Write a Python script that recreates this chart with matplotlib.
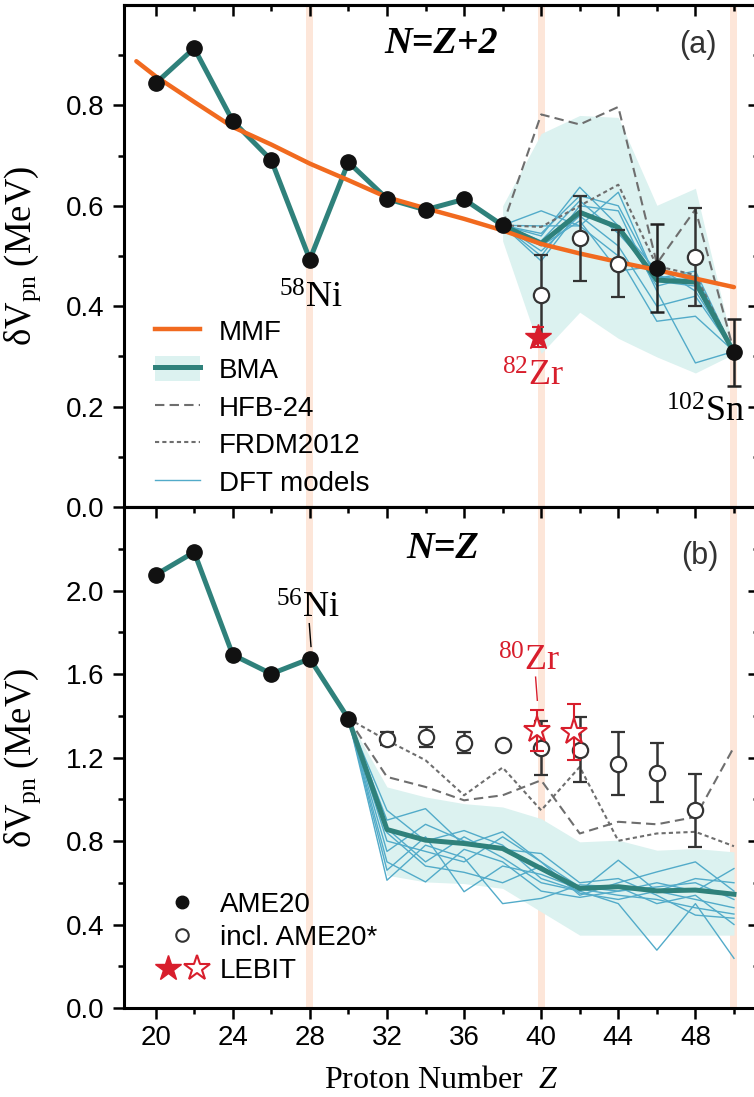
import numpy as np
import matplotlib.pyplot as plt
from matplotlib.lines import Line2D
from matplotlib.patches import Patch
from matplotlib.legend_handler import HandlerTuple

plt.rcParams['font.family'] = ['Liberation Sans', 'DejaVu Sans']
plt.rcParams['mathtext.fontset'] = 'custom'
plt.rcParams['mathtext.rm'] = 'Liberation Serif'
plt.rcParams['mathtext.it'] = 'Liberation Serif:italic'

# ---------------- panel (a): N = Z + 2 ----------------
z_even = [20, 22, 24, 26, 28, 30, 32, 34, 36, 38, 40, 42, 44, 46, 48, 50]

a_ame_z = [20, 22, 24, 26, 28, 30, 32, 34, 36, 38]
a_ame_v = [0.844, 0.914, 0.769, 0.691, 0.493, 0.687, 0.614, 0.592, 0.613, 0.561]
a_ame_err_z = [46, 50]
a_ame_err_v = [0.476, 0.308]
a_ame_err_e = [0.087, 0.067]

a_incl_z = [40, 42, 44, 48]
a_incl_v = [0.422, 0.535, 0.485, 0.498]
a_incl_e = [0.080, 0.084, 0.067, 0.097]

a_lebit_z = [39.85]
a_lebit_v = [0.339]
a_lebit_e = [0.02]

a_bma = [0.844, 0.914, 0.769, 0.691, 0.493, 0.687, 0.614, 0.592, 0.613, 0.561,
         0.525, 0.587, 0.557, 0.452, 0.448, 0.308]

a_model_z = [38, 40, 42, 44, 46, 48, 50]
a_band_hi = [0.600, 0.744, 0.780, 0.776, 0.601, 0.635, 0.312]
a_band_lo = [0.530, 0.306, 0.388, 0.336, 0.299, 0.267, 0.305]
a_hfb = [0.561, 0.782, 0.762, 0.797, 0.485, 0.593, 0.310]
a_frdm = [0.561, 0.558, 0.600, 0.642, 0.480, 0.462, 0.310]
a_dft = [
    [0.561, 0.590, 0.560, 0.627, 0.450, 0.440, 0.310],
    [0.561, 0.540, 0.637, 0.560, 0.470, 0.460, 0.310],
    [0.561, 0.500, 0.600, 0.590, 0.430, 0.287, 0.310],
    [0.561, 0.510, 0.580, 0.520, 0.400, 0.420, 0.310],
    [0.561, 0.530, 0.610, 0.545, 0.460, 0.450, 0.310],
    [0.561, 0.560, 0.560, 0.500, 0.370, 0.380, 0.310],
    [0.561, 0.490, 0.590, 0.560, 0.440, 0.460, 0.310],
    [0.561, 0.520, 0.570, 0.470, 0.480, 0.430, 0.310],
    [0.561, 0.545, 0.620, 0.600, 0.455, 0.470, 0.310],
]

mmf_z = [19, 20, 22, 24, 26, 28, 30, 32, 34, 36, 38, 40, 42, 44, 46, 48, 50]
mmf_v = [0.888, 0.858, 0.807, 0.757, 0.722, 0.684, 0.651, 0.617, 0.595, 0.574,
         0.551, 0.524, 0.505, 0.488, 0.472, 0.455, 0.438]

# ---------------- panel (b): N = Z ----------------
b_ame_z = [20, 22, 24, 26, 28, 30]
b_ame_v = [2.075, 2.184, 1.692, 1.601, 1.673, 1.386]

b_incl_z = [32, 34, 36, 38, 40, 42, 44, 46, 48]
b_incl_v = [1.290, 1.298, 1.271, 1.258, 1.246, 1.238, 1.171, 1.128, 0.947]
b_incl_e = [0.030, 0.050, 0.050, 0.0, 0.128, 0.155, 0.152, 0.143, 0.174]

b_lebit_z = [39.8, 41.7]
b_lebit_v = [1.330, 1.322]
b_lebit_e = [0.099, 0.133]

b_bma = [2.075, 2.184, 1.692, 1.601, 1.673, 1.386, 0.855, 0.804, 0.788, 0.764,
         0.668, 0.573, 0.581, 0.561, 0.565, 0.545]

b_model_z = [30, 32, 34, 36, 38, 40, 42, 44, 46, 48, 50]
b_band_hi = [1.386, 1.059, 1.011, 0.979, 0.963, 0.907, 0.796, 0.804, 0.756, 0.764, 0.748]
b_band_lo = [1.386, 0.636, 0.604, 0.596, 0.573, 0.461, 0.349, 0.349, 0.349, 0.349, 0.349]
b_hfb = [1.386, 1.107, 1.059, 0.995, 1.019, 1.091, 0.836, 0.892, 0.880, 0.915, 1.250]
b_frdm = [1.386, 1.282, 1.187, 1.019, 1.152, 0.947, 1.155, 0.801, 0.836, 0.844, 0.775]
b_dft = [
    [1.386, 0.947, 0.800, 0.850, 0.780, 0.620, 0.560, 0.708, 0.560, 0.520, 0.480],
    [1.386, 0.900, 0.955, 0.780, 0.844, 0.700, 0.580, 0.560, 0.600, 0.560, 0.668],
    [1.386, 0.860, 0.700, 0.820, 0.720, 0.600, 0.560, 0.500, 0.277, 0.500, 0.238],
    [1.386, 0.800, 0.750, 0.700, 0.820, 0.700, 0.540, 0.600, 0.652, 0.700, 0.560],
    [1.386, 0.750, 0.880, 0.800, 0.760, 0.740, 0.600, 0.620, 0.540, 0.445, 0.430],
    [1.386, 0.700, 0.604, 0.760, 0.700, 0.560, 0.530, 0.560, 0.580, 0.600, 0.520],
    [1.386, 0.660, 0.820, 0.557, 0.680, 0.640, 0.570, 0.540, 0.520, 0.480, 0.450],
    [1.386, 0.612, 0.780, 0.720, 0.500, 0.525, 0.590, 0.580, 0.500, 0.540, 0.400],
    [1.386, 0.840, 0.680, 0.650, 0.600, 0.680, 0.550, 0.520, 0.560, 0.620, 0.600],
]

magic_z = [28, 40, 50]

TEAL = '#2f817b'
BAND = '#dcf2f0'
DFT = '#52abc9'
ORANGE = '#f16a1f'
RED = '#d81e2c'
PEACH = '#fde6d9'
GRAY = '#6e6e6e'
DARK = '#333333'

fig = plt.figure(figsize=(7.54, 10.97), dpi=100)
ax_a = fig.add_axes([0.16446, 0.53783, 0.8422, 0.45761])
ax_b = fig.add_axes([0.16446, 0.08113, 0.8422, 0.4567])


def style(ax, ymax, ymaj, ymin, show_x):
    ax.set_xlim(18.36, 51.3)
    ax.set_ylim(0, ymax)
    ax.set_xticks(np.arange(20, 49, 4))
    ax.set_xticks(np.arange(22, 51, 4), minor=True)
    ax.set_yticks(ymaj)
    ax.set_yticks(ymin, minor=True)
    ax.tick_params(which='major', direction='out', length=8, width=1.8,
                   labelsize=20, pad=6, labelbottom=show_x)
    ax.tick_params(axis='x', which='major', pad=4)
    ax.tick_params(which='minor', direction='out', length=4, width=1.8)
    for s in ax.spines.values():
        s.set_linewidth(2.2)
    secx = ax.secondary_xaxis('top')
    secx.set_xticks(np.arange(20, 49, 4))
    secx.set_xticks(np.arange(22, 51, 4), minor=True)
    secx.tick_params(which='major', direction='in', length=8, width=1.8, labeltop=False)
    secx.tick_params(which='minor', direction='in', length=4, width=1.8)
    secx.spines['top'].set_linewidth(2.2)
    secy = ax.secondary_yaxis('right')
    secy.set_yticks(ymaj)
    secy.set_yticks(ymin, minor=True)
    secy.tick_params(which='major', direction='in', length=8, width=1.8, labelright=False)
    secy.tick_params(which='minor', direction='in', length=4, width=1.8)
    for z in magic_z:
        ax.axvspan(z - 0.18, z + 0.18, color=PEACH, lw=0, zorder=0)
    ax.set_ylabel('δV$_{\\rm pn}$ (MeV)', family='Liberation Serif', fontsize=26.5)
    ax.yaxis.set_label_coords(-0.128, 0.5)


style(ax_a, 1.0, [0, 0.2, 0.4, 0.6, 0.8], [0.1, 0.3, 0.5, 0.7, 0.9], False)
style(ax_b, 2.4, [0, 0.4, 0.8, 1.2, 1.6, 2.0], [0.2, 0.6, 1.0, 1.4, 1.8, 2.2], True)
ax_a.yaxis.set_major_formatter(plt.FormatStrFormatter('%.1f'))
ax_b.yaxis.set_major_formatter(plt.FormatStrFormatter('%.1f'))

# ---- panel (a)
ax = ax_a
ax.fill_between(a_model_z, a_band_lo, a_band_hi, color=BAND, lw=0, zorder=1)
for d in a_dft:
    ax.plot(a_model_z, d, color=DFT, lw=1.0, zorder=2)
ax.plot(a_model_z, a_hfb, color=GRAY, lw=1.5, dashes=(4.5, 2.5), zorder=3)
ax.plot(a_model_z, a_frdm, color=GRAY, lw=1.5, dashes=(2, 1.5), zorder=3)
ax.plot(z_even, a_bma, color=TEAL, lw=3.6, zorder=4)
ax.plot(mmf_z, mmf_v, color=ORANGE, lw=3.2, zorder=4.5, solid_capstyle='round')
ax.plot(a_ame_z, a_ame_v, 'o', color='#111111', ms=11, zorder=6)
ax.errorbar(a_ame_err_z, a_ame_err_v, yerr=a_ame_err_e, fmt='o', color='#111111',
            ms=11, ecolor='#222222', elinewidth=1.8, capsize=5, capthick=1.8, zorder=6)
ax.errorbar(a_incl_z, a_incl_v, yerr=a_incl_e, fmt='o', mfc='white', mec=DARK, ms=11,
            mew=1.6, ecolor=DARK, elinewidth=1.8, capsize=5, capthick=1.8, zorder=6)
ax.errorbar(a_lebit_z, a_lebit_v, yerr=a_lebit_e, fmt='*', color=RED, ms=19,
            ecolor=RED, elinewidth=1.5, capsize=4, capthick=1.5, zorder=7)

ax.text(34.8, 0.923, 'N=Z+2', family='Liberation Serif', style='italic', weight='bold',
        fontsize=27.5, ha='center', va='center')
ax.text(48.13, 0.921, '(a)', fontsize=22, color=DARK, ha='center', va='center')
ax.text(28.07, 0.396, '$^{58}$Ni', family='Liberation Serif', fontsize=26,
        ha='center', va='baseline')
ax.text(39.58, 0.241, '$^{82}$Zr', family='Liberation Serif', fontsize=26,
        color=RED, ha='center', va='baseline')
ax.text(48.52, 0.170, '$^{102}$Sn', family='Liberation Serif', fontsize=26,
        ha='center', va='baseline')

h_a = [Line2D([], [], color=ORANGE, lw=3.2),
       (Patch(facecolor=BAND, edgecolor='none'), Line2D([], [], color=TEAL, lw=3.6)),
       Line2D([], [], color=GRAY, lw=1.5, dashes=(4.5, 2.5)),
       Line2D([], [], color=GRAY, lw=1.5, dashes=(2, 1.5)),
       Line2D([], [], color=DFT, lw=1.0)]
ax.legend(h_a, ['MMF', 'BMA', 'HFB-24', 'FRDM2012', 'DFT models'],
          handler_map={tuple: HandlerTuple(ndivide=1)}, loc='upper left',
          bbox_to_anchor=(0.049, 0.376), frameon=False, fontsize=20,
          borderpad=0, borderaxespad=0, labelspacing=0.35, handlelength=1.6,
          handleheight=1.0, handletextpad=0.7)

# ---- panel (b)
ax = ax_b
ax.fill_between(b_model_z, b_band_lo, b_band_hi, color=BAND, lw=0, zorder=1)
for d in b_dft:
    ax.plot(b_model_z, d, color=DFT, lw=1.0, zorder=2)
ax.plot(b_model_z, b_hfb, color=GRAY, lw=1.5, dashes=(4.5, 2.5), zorder=3)
ax.plot(b_model_z, b_frdm, color=GRAY, lw=1.5, dashes=(2, 1.5), zorder=3)
ax.plot(z_even, b_bma, color=TEAL, lw=3.6, zorder=4)
ax.plot(b_ame_z, b_ame_v, 'o', color='#111111', ms=11, zorder=6)
ax.errorbar(b_incl_z, b_incl_v, yerr=b_incl_e, fmt='o', mfc='white', mec=DARK, ms=11,
            mew=1.6, ecolor=DARK, elinewidth=1.8, capsize=5, capthick=1.8, zorder=6)
ax.errorbar(b_lebit_z, b_lebit_v, yerr=b_lebit_e, fmt='*', mfc='white', mec=RED,
            ms=20, mew=1.5, ecolor=RED, elinewidth=1.5, capsize=5, capthick=1.5, zorder=7)

ax.text(34.9, 2.20, 'N=Z', family='Liberation Serif', style='italic', weight='bold',
        fontsize=27.5, ha='center', va='center')
ax.text(48.24, 2.167, '(b)', fontsize=22, color=DARK, ha='center', va='center')
ax.text(27.88, 1.871, '$^{56}$Ni', family='Liberation Serif', fontsize=26,
        ha='center', va='baseline')
ax.plot([27.97, 28.06], [1.841, 1.732], color='black', lw=1.0, zorder=5)
ax.text(39.37, 1.617, '$^{80}$Zr', family='Liberation Serif', fontsize=26,
        color=RED, ha='center', va='baseline')
ax.plot([39.71, 39.80], [1.585, 1.474], color=RED, lw=1.0, zorder=5)

h_b = [Line2D([], [], ls='none', marker='o', color='#111111', ms=9),
       Line2D([], [], ls='none', marker='o', mfc='white', mec=DARK, ms=9, mew=1.5),
       (Line2D([], [], ls='none', marker='*', color=RED, ms=19),
        Line2D([], [], ls='none', marker='*', mfc='white', mec=RED, ms=19, mew=1.5))]
ax.legend(h_b, ['AME20', 'incl. AME20*', 'LEBIT'],
          handler_map={tuple: HandlerTuple(ndivide=None, pad=0.0)}, loc='upper left',
          bbox_to_anchor=(0.046, 0.232), frameon=False, fontsize=20,
          borderpad=0, borderaxespad=0, labelspacing=0.26, handlelength=2.1,
          handletextpad=0.3)

# x label placed by its baseline, like the reference
ax.text(0.5, -0.1597, 'Proton Number  $Z$', family='Liberation Serif', fontsize=23,
        ha='center', va='baseline', transform=ax.transAxes)

fig.savefig('out.png', dpi=100)
